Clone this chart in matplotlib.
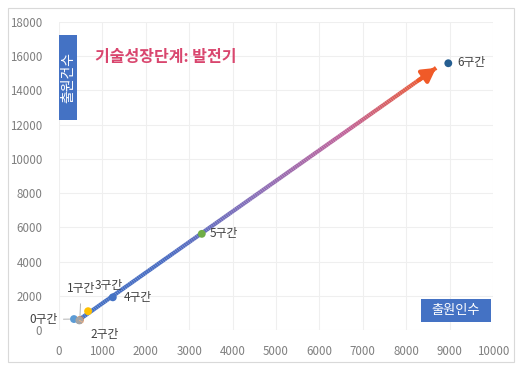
import numpy as np
import matplotlib
matplotlib.use("Agg")
import matplotlib.pyplot as plt
from matplotlib.collections import LineCollection
from matplotlib.colors import LinearSegmentedColormap
from matplotlib.patches import Rectangle

plt.rcParams['font.family'] = ['Noto Sans CJK KR', 'DejaVu Sans']

# Section data: applicants (x) vs. applications (y)
sections = ["0구간", "1구간", "2구간", "3구간", "4구간", "5구간", "6구간"]
applicants = [345, 480, 470, 670, 1240, 3290, 8970]
applications = [640, 580, 560, 1100, 1910, 5620, 15590]
colors = ["#5B9BD5", "#ED7D31", "#A5A5A5", "#FFC000", "#4472C4", "#70AD47", "#255E91"]

x_ticks = list(range(0, 10001, 1000))
y_ticks = list(range(0, 18001, 2000))

title = "기술성장단계: 발전기"
x_label = "출원인수"
y_label = "출원건수"

# Growth trend arrow (start / end in data units)
arrow_start = (390, 470)
arrow_end = (8690, 15320)

W, H = 521, 369
fig = plt.figure(figsize=(W / 100, H / 100), dpi=100)
fig.patch.set_facecolor("white")
fig.add_artist(Rectangle((8 / W, 7 / H), 506 / W, 354 / H, transform=fig.transFigure,
                         fill=False, edgecolor="#d9d9d9", linewidth=0.8))

ax = fig.add_axes([59 / W, 1 - 330 / H, 434 / W, 308 / H])
ax.set_xlim(0, 10000)
ax.set_ylim(0, 18000)
ax.set_xticks(x_ticks)
ax.set_yticks(y_ticks)
ax.tick_params(length=0, labelsize=8.3, labelcolor="#7f7f7f")
ax.tick_params(axis="x", pad=11)
ax.tick_params(axis="y", pad=12)
for s in ax.spines.values():
    s.set_visible(False)
ax.grid(True, color="#efefef", linewidth=0.8)
ax.set_axisbelow(True)

# gradient arrow shaft
n = 200
xs = np.linspace(arrow_start[0], arrow_end[0], n)
ys = np.linspace(arrow_start[1], arrow_end[1], n)
pts = np.array([xs, ys]).T.reshape(-1, 1, 2)
segs = np.concatenate([pts[:-1], pts[1:]], axis=1)
cmap = LinearSegmentedColormap.from_list("trend", ["#4472C4", "#4a6cc2", "#8a6fb8", "#c0649a", "#F05A28"])
lc = LineCollection(segs, colors=cmap(np.linspace(0, 1, n - 1)), linewidth=3.0,
                    capstyle="butt", zorder=3)
ax.add_collection(lc)
ax.annotate("", xy=arrow_end, xytext=(arrow_end[0] - 400, arrow_end[1] - 720),
            arrowprops=dict(arrowstyle="-|>,head_length=0.8,head_width=0.45",
                            color="#F05A28", lw=3.0, shrinkA=0, shrinkB=0), zorder=4)

for x, y, c in zip(applicants, applications, colors):
    ax.scatter(x, y, s=32, color=c, zorder=5, edgecolors="none")

lab_kw = dict(fontsize=8.5, color="#404040", zorder=6)
# data labels with leader lines
ax.annotate(sections[0], xy=(applicants[0], applications[0]), xytext=(-680, 620),
            ha="left", va="center", annotation_clip=False,
            arrowprops=dict(arrowstyle="-", color="#a6a6a6", lw=0.6, shrinkA=2, shrinkB=3), **lab_kw)
ax.annotate(sections[1], xy=(applicants[1], applications[1]), xytext=(180, 2400),
            ha="left", va="center",
            arrowprops=dict(arrowstyle="-", color="#a6a6a6", lw=0.6, shrinkA=4, shrinkB=3), **lab_kw)
ax.annotate(sections[2], xy=(applicants[2], applications[2]), xytext=(720, -260),
            ha="left", va="center", annotation_clip=False,
            arrowprops=dict(arrowstyle="-", color="#f4b183", lw=0.6, shrinkA=4, shrinkB=3), **lab_kw)
ax.text(830, 2600, sections[3], ha="left", va="center", **lab_kw)
ax.text(applicants[4] + 260, applications[4] - 20, sections[4], ha="left", va="center", **lab_kw)
ax.text(applicants[5] + 180, applications[5] + 0, sections[5], ha="left", va="center", **lab_kw)
ax.text(applicants[6] + 220, applications[6] + 20, sections[6], ha="left", va="center", **lab_kw)

ax.text(0.083, 0.885, title, transform=ax.transAxes, fontsize=11.5, fontweight="bold",
        color="#D9466E", ha="left", va="center")

# axis title boxes
fig.add_artist(Rectangle((59 / W, 1 - 120 / H), 18 / W, 85 / H, transform=fig.transFigure,
                         facecolor="#4472C4", edgecolor="none", zorder=7))
fig.text(68 / W, 1 - 77.5 / H, y_label, rotation=90, ha="center", va="center",
         fontsize=10, color="white", zorder=8)
fig.add_artist(Rectangle((421 / W, 1 - 322 / H), 70 / W, 23 / H, transform=fig.transFigure,
                         facecolor="#4472C4", edgecolor="none", zorder=7))
fig.text(456 / W, 1 - 310.5 / H, x_label, ha="center", va="center",
         fontsize=9.5, color="white", zorder=8)

fig.savefig("out.png", dpi=100, facecolor="white")
